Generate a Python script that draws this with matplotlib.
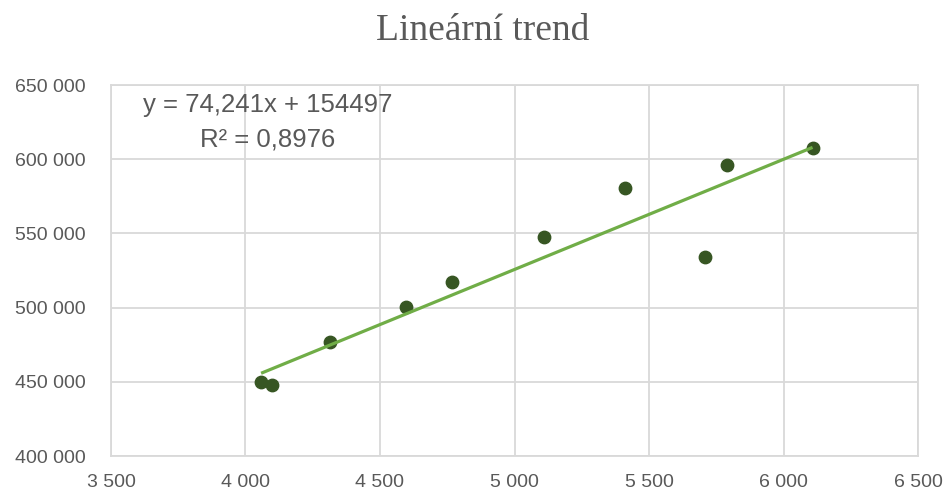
import matplotlib.pyplot as plt
import numpy as np
from matplotlib.ticker import FuncFormatter

# data
x_vals = [4058, 4097, 4313, 4597, 4767, 5110, 5410, 5708, 5790, 6108]
y_vals = [449800, 448000, 477000, 500300, 517000, 547500, 580300, 534300, 596000, 607600]
slope = 74.241
intercept = 154497
r2_text = "0,8976"
title = "Lineární trend"

x_ticks = [3500, 4000, 4500, 5000, 5500, 6000, 6500]
y_ticks = [400000, 450000, 500000, 550000, 600000, 650000]

text_gray = "#595959"
grid_gray = "#d9d9d9"

fig = plt.figure(figsize=(9.47, 4.96), dpi=100)
ax = fig.add_axes([0.1172, 0.0806, 0.8522, 0.748])

ax.scatter(x_vals, y_vals, s=80, color="#375623", zorder=3)

# trend line across the data range
tx = np.array([min(x_vals), max(x_vals)])
ax.plot(tx, slope * tx + intercept, color="#70ad47", lw=2.3, zorder=4,
        solid_capstyle="butt")

ax.set_xlim(3500, 6500)
ax.set_ylim(400000, 650000)
ax.set_xticks(x_ticks)
ax.set_yticks(y_ticks)

def fmt(v, pos):
    return f"{int(v):,}".replace(",", " ")

ax.xaxis.set_major_formatter(FuncFormatter(fmt))
ax.yaxis.set_major_formatter(FuncFormatter(fmt))

tick_font = ["Liberation Sans", "DejaVu Sans"]
for lab in ax.get_xticklabels() + ax.get_yticklabels():
    lab.set_family(tick_font)
    lab.set_fontsize(14)
    lab.set_color(text_gray)

ax.tick_params(length=0)
ax.tick_params(axis="x", pad=13)
ax.tick_params(axis="y", pad=18)
ax.grid(True, color=grid_gray, lw=1.3, zorder=0)
ax.set_axisbelow(True)
for sp in ax.spines.values():
    sp.set_color(grid_gray)
    sp.set_linewidth(1.3)

fig.text(483 / 947, 1 - 31 / 496, title, ha="center", va="center",
         family="Liberation Serif", fontsize=27, color=text_gray)

eq = f"y = {slope:.3f}".replace(".", ",") + f"x + {intercept}\nR² = {r2_text}"
fig.text(268 / 947, 1 - 122 / 496, eq, ha="center", va="center",
         family=["Liberation Sans", "DejaVu Sans"], fontsize=18.5,
         color=text_gray, linespacing=1.55)

fig.savefig("out.png", dpi=100)
